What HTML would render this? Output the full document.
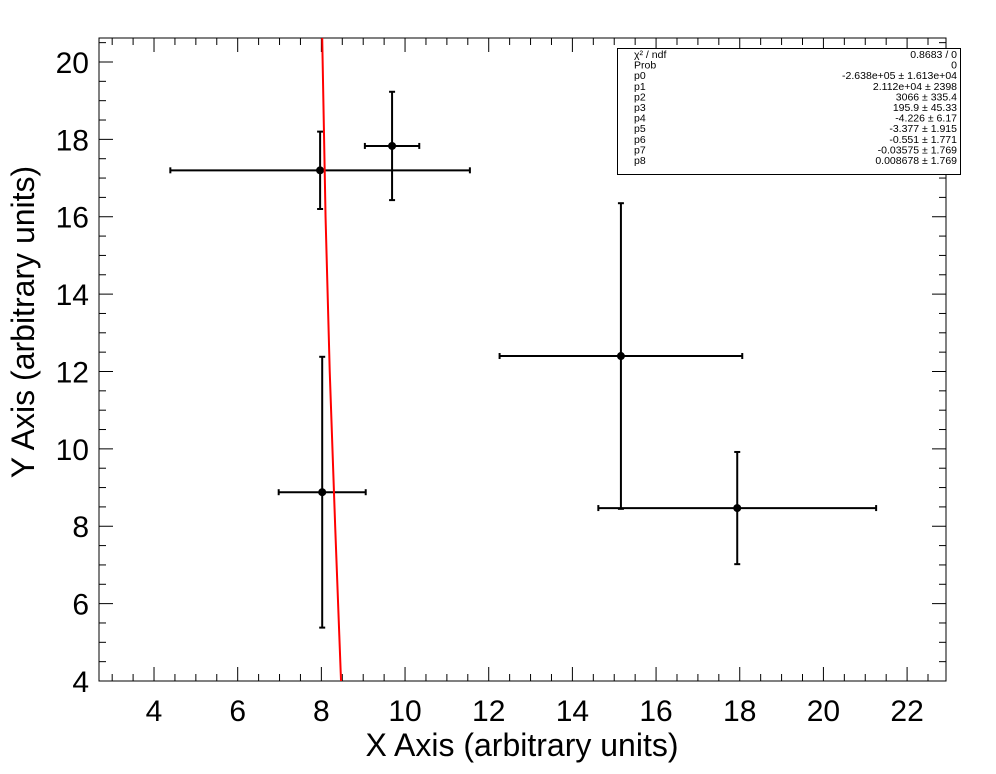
<!DOCTYPE html>
<html><head><meta charset="utf-8"><style>
body{margin:0;background:#fff;}
svg{display:block;font-family:"Liberation Sans",sans-serif;}
</style></head><body>
<svg id="c" width="996" height="774" xmlns="http://www.w3.org/2000/svg">
<g id="stats">
<rect x="617.5" y="48.5" width="343" height="126" fill="#fff" stroke="#000" stroke-width="1"/>
</g>
</svg>
<script>
const xVals=[7.97,9.69,8.02,15.16,17.94];
const yVals=[17.2,17.83,8.88,12.4,8.47];
const xErr=[3.58,0.65,1.04,2.9,3.32];
const yErr=[1.0,1.4,3.5,3.95,1.45];
const fitX=[8.02,8.1,8.2,8.33,8.47];
const fitY=[20.62,16,12,8,4];
const xTicks=[4,6,8,10,12,14,16,18,20,22];
const yTicks=[4,6,8,10,12,14,16,18,20];
const statLabels=["χ² / ndf","Prob","p0","p1","p2","p3","p4","p5","p6","p7","p8"];
const statValues=["0.8683 / 0","0","-2.638e+05 ± 1.613e+04","2.112e+04 ±  2398","3066 ± 335.4","195.9 ± 45.33","-4.226 ±  6.17","-3.377 ± 1.915","-0.551 ± 1.771","-0.03575 ± 1.769","0.008678 ± 1.769"];
const L=99,R=946,T=38,B=681;
const X0=2.685,X1=22.93,Y0=4,Y1=20.62;
const sx=v=>L+(v-X0)/(X1-X0)*(R-L);
const sy=v=>B-(v-Y0)/(Y1-Y0)*(B-T);
const svg=document.getElementById('c');
const NS="http://www.w3.org/2000/svg";
function mk(t,a,p){const e=document.createElementNS(NS,t);for(const k in a)e.setAttribute(k,a[k]);(p||svg).appendChild(e);return e;}
const frame=mk('rect',{x:L,y:T,width:R-L,height:B-T,fill:'none',stroke:'#000','stroke-width':1});


const ax=mk('g',{stroke:'#000','stroke-width':1});


for(let v=3;v<=22.9;v+=0.5){const x=sx(v);const maj=Math.abs(v%2)<1e-6;const len=maj?14:7;
 mk('line',{x1:x,y1:B,x2:x,y2:B-len},ax);mk('line',{x1:x,y1:T,x2:x,y2:T+len},ax);}
for(let v=4;v<=20.6;v+=0.5){const y=sy(v);const maj=Math.abs(v%2)<1e-6;const len=maj?14:7;
 mk('line',{x1:L,y1:y,x2:L+len,y2:y},ax);mk('line',{x1:R,y1:y,x2:R-len,y2:y},ax);}
xTicks.forEach(v=>{const t=mk('text',{x:sx(v),y:721,'font-size':30,'text-anchor':'middle'});t.textContent=v;
 
 });
yTicks.forEach(v=>{const t=mk('text',{x:89,y:sy(v)+11,'font-size':30,'text-anchor':'end'});t.textContent=v;
 
 });
const xt=mk('text',{x:522,y:756,'font-size':32,'text-anchor':'middle'});xt.textContent='X Axis (arbitrary units)';


const yt=mk('text',{x:0,y:0,'font-size':32,'text-anchor':'middle',transform:'translate(34,322) rotate(-90)'});yt.textContent='Y Axis (arbitrary units)';


const pts=mk('g',{stroke:'#000','stroke-width':2});


xVals.forEach((xv,i)=>{const g=mk('g',{},pts);
 
 
 const x=sx(xv),y=sy(yVals[i]),xl=sx(xv-xErr[i]),xr=sx(xv+xErr[i]),yt2=sy(yVals[i]+yErr[i]),yb=sy(yVals[i]-yErr[i]);
 mk('line',{x1:xl,y1:y,x2:xr,y2:y},g);mk('line',{x1:x,y1:yt2,x2:x,y2:yb},g);
 mk('line',{x1:xl,y1:y-3,x2:xl,y2:y+3},g);mk('line',{x1:xr,y1:y-3,x2:xr,y2:y+3},g);
 mk('line',{x1:x-3,y1:yt2,x2:x+3,y2:yt2},g);mk('line',{x1:x-3,y1:yb,x2:x+3,y2:yb},g);
 mk('circle',{cx:x,cy:y,r:4,fill:'#000',stroke:'none'},g);});
const fit=mk('polyline',{points:fitX.map((v,i)=>sx(v)+','+sy(fitY[i])).join(' '),fill:'none',stroke:'#f00','stroke-width':2});


const st=document.getElementById('stats');svg.appendChild(st);
statLabels.forEach((s,i)=>{const y=58+i*10.6;
 const a=mk('text',{x:634,y:y,'font-size':10.5},st);a.textContent=s;
 
 
 const b=mk('text',{x:957,y:y,'font-size':10.5,'text-anchor':'end'},st);b.textContent=statValues[i];
 
 });
</script>
</body></html>
